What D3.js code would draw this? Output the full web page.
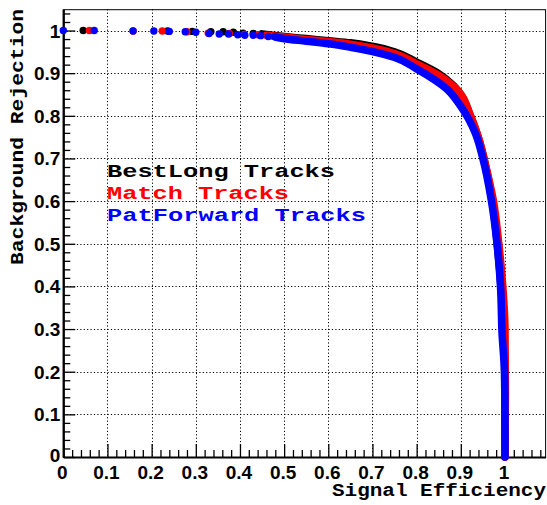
<!DOCTYPE html>
<html>
<head>
<meta charset="utf-8">
<script src="https://cdn.jsdelivr.net/npm/d3@7"></script>
<style>
  html, body { margin: 0; padding: 0; background: #fff; }
  #chart { width: 547px; height: 505px; }
  .tick-label { font-family: "Liberation Sans", Arial, sans-serif; font-weight: bold; font-size: 19px; fill: #000; }
  .mono { font-family: "Courier New", "Liberation Mono", monospace; font-weight: bold; }
</style>
</head>
<body>
<div id="chart"></div>
<script>
// tick values
const xTicks = [0, 0.1, 0.2, 0.3, 0.4, 0.5, 0.6, 0.7, 0.8, 0.9, 1];
const yTicks = [0, 0.1, 0.2, 0.3, 0.4, 0.5, 0.6, 0.7, 0.8, 0.9, 1];

// legend / series names, drawing order
const seriesNames = ["BestLong Tracks", "Match Tracks", "PatForward Tracks"];
const seriesColors = ["#000000", "#ff0000", "#0000ff"];

// isolated markers at low efficiency [signal eff, background rejection]
const bestLongSparse = [[0.045, 1.0], [0.236, 0.999], [0.292, 0.998], [0.334, 0.997], [0.362, 0.997],
  [0.385, 0.996], [0.407, 0.994], [0.43, 0.993]];
const matchSparse = [[0.059, 1.0], [0.158, 0.999], [0.224, 0.999], [0.28, 0.997], [0.328, 0.994],
  [0.376, 0.993], [0.41, 0.991], [0.441, 0.990]];
const patForwardSparse = [[0, 1.0], [0.070, 1.0], [0.158, 0.999], [0.205, 0.999], [0.24, 0.998],
  [0.276, 0.997], [0.300, 0.996], [0.33, 0.993], [0.353, 0.992], [0.374, 0.992], [0.395, 0.990],
  [0.411, 0.989], [0.43, 0.989], [0.447, 0.988], [0.464, 0.986]];

// dense part of each curve (markers merge into a band)
const bestLongDense = [[0.45, 0.992], [0.5, 0.986], [0.55, 0.981], [0.6, 0.976], [0.65, 0.971],
  [0.7, 0.963], [0.75, 0.950], [0.8, 0.926], [0.85, 0.899], [0.883, 0.871], [0.9, 0.850],
  [0.92, 0.805], [0.94, 0.748], [0.955, 0.688], [0.97, 0.610], [0.982, 0.505], [0.991, 0.40],
  [0.997, 0.30], [1.0, 0.15], [1.0, 0.0]];
const matchDense = [[0.46, 0.989], [0.5, 0.985], [0.55, 0.979], [0.6, 0.974], [0.65, 0.968],
  [0.7, 0.959], [0.75, 0.946], [0.8, 0.922], [0.85, 0.895], [0.887, 0.866], [0.923, 0.797],
  [0.942, 0.742], [0.957, 0.680], [0.9735, 0.602], [0.986, 0.50], [0.995, 0.40], [1.0, 0.30],
  [1.001, 0.15], [1.0, 0.0]];
const patForwardDense = [[0.479, 0.985], [0.5, 0.981], [0.55, 0.975], [0.6, 0.969], [0.65, 0.961],
  [0.7, 0.951], [0.75, 0.937], [0.8, 0.910], [0.868, 0.863], [0.9, 0.822], [0.933, 0.759],
  [0.95, 0.700], [0.969, 0.603], [0.982, 0.501], [0.990, 0.40], [0.9935, 0.29], [0.999, 0.197],
  [1.0, 0.094], [1.0, 0.0]];

const sparseSets = [bestLongSparse, matchSparse, patForwardSparse];
const denseSets = [bestLongDense, matchDense, patForwardDense];

const W = 547, H = 505;
const frame = { left: 63.3, right: 545.6, top: 9.2, bottom: 457 };

const x = d3.scaleLinear().domain([0, 1.092]).range([frame.left, frame.right]);
const y = d3.scaleLinear().domain([0, 1.05]).range([frame.bottom, frame.top]);

const svg = d3.select("#chart").append("svg")
  .attr("width", W).attr("height", H);

svg.append("rect").attr("width", W).attr("height", H).attr("fill", "#fff");

// grid
const grid = svg.append("g")
  .attr("stroke", "#000").attr("stroke-width", 1).attr("stroke-dasharray", "1.2,2.2");
grid.selectAll("line.gx").data(xTicks.slice(1)).join("line")
  .attr("x1", d => Math.round(x(d)) + 0.5).attr("x2", d => Math.round(x(d)) + 0.5)
  .attr("y1", frame.top).attr("y2", frame.bottom);
grid.selectAll("line.gy").data(yTicks.slice(1)).join("line")
  .attr("y1", d => Math.round(y(d)) + 0.5).attr("y2", d => Math.round(y(d)) + 0.5)
  .attr("x1", frame.left).attr("x2", frame.right);

// frame
svg.append("rect")
  .attr("x", frame.left).attr("y", frame.top + 0.5)
  .attr("width", frame.right - frame.left).attr("height", frame.bottom - frame.top)
  .attr("fill", "none").attr("stroke", "#000").attr("stroke-width", 1);

// axes, ticks pointing into the frame
const isMajor = d => Math.abs(d * 10 - Math.round(d * 10)) < 1e-6;

const xAxis = d3.axisBottom(x)
  .tickValues(d3.range(0, 1.09, 0.02))
  .tickSizeInner(-7).tickSizeOuter(0).tickFormat("");
const gx = svg.append("g").attr("transform", `translate(0,${frame.bottom})`).call(xAxis);
gx.selectAll(".tick line")
  .attr("y2", d => isMajor(d) ? -13 : -7)
  .attr("stroke-width", 1.3);
gx.select(".domain").attr("stroke-width", 2.2);

const yAxis = d3.axisLeft(y)
  .tickValues(d3.range(0, 1.05, 0.02))
  .tickSizeInner(-7).tickSizeOuter(0).tickFormat("");
const gy = svg.append("g").attr("transform", `translate(${frame.left},0)`).call(yAxis);
gy.selectAll(".tick line")
  .attr("x2", d => isMajor(d) ? 12 : 7)
  .attr("stroke-width", 1.3);
gy.select(".domain").attr("stroke-width", 2.2);

const fmt = v => (v === 0 || v === 1) ? String(v) : d3.format(".1f")(v);

svg.append("g").selectAll("text").data(xTicks).join("text")
  .attr("class", "tick-label")
  .attr("x", d => x(d) - 1).attr("y", 479)
  .attr("text-anchor", "middle")
  .text(fmt);

svg.append("g").selectAll("text").data(yTicks).join("text")
  .attr("class", "tick-label")
  .attr("x", frame.left - 3).attr("y", d => y(d) + (d === 0 ? 5 : 7))
  .attr("text-anchor", "end")
  .text(fmt);

// axis titles
svg.append("text").attr("class", "mono")
  .attr("x", 546).attr("y", 496)
  .attr("text-anchor", "end")
  .attr("font-size", 18)
  .attr("textLength", 214).attr("lengthAdjust", "spacingAndGlyphs")
  .text("Signal Efficiency");

svg.append("text").attr("class", "mono")
  .attr("transform", "translate(23,9) rotate(-90)")
  .attr("text-anchor", "end")
  .attr("font-size", 18)
  .attr("textLength", 256).attr("lengthAdjust", "spacingAndGlyphs")
  .text("Background Rejection");

// curves
const line = d3.line()
  .x(d => x(d[0])).y(d => y(d[1]))
  .curve(d3.curveMonotoneY);

seriesNames.forEach((name, i) => {
  const g = svg.append("g").attr("fill", seriesColors[i]);
  g.append("path")
    .attr("d", line(denseSets[i]))
    .attr("fill", "none")
    .attr("stroke", seriesColors[i])
    .attr("stroke-width", 7.6)
    .attr("stroke-linecap", "round")
    .attr("stroke-linejoin", "round");
  g.selectAll("circle").data(sparseSets[i]).join("circle")
    .attr("cx", d => x(d[0])).attr("cy", d => y(d[1]))
    .attr("r", 3.7);
});

// legend
const legendWidths = [228, 182, 259];
svg.append("g").selectAll("text").data(seriesNames).join("text")
  .attr("class", "mono")
  .attr("x", 107).attr("y", (d, i) => 177 + i * 21.8)
  .attr("font-size", 18)
  .attr("fill", (d, i) => seriesColors[i])
  .attr("textLength", (d, i) => legendWidths[i]).attr("lengthAdjust", "spacingAndGlyphs")
  .text(d => d);
</script>
</body>
</html>
